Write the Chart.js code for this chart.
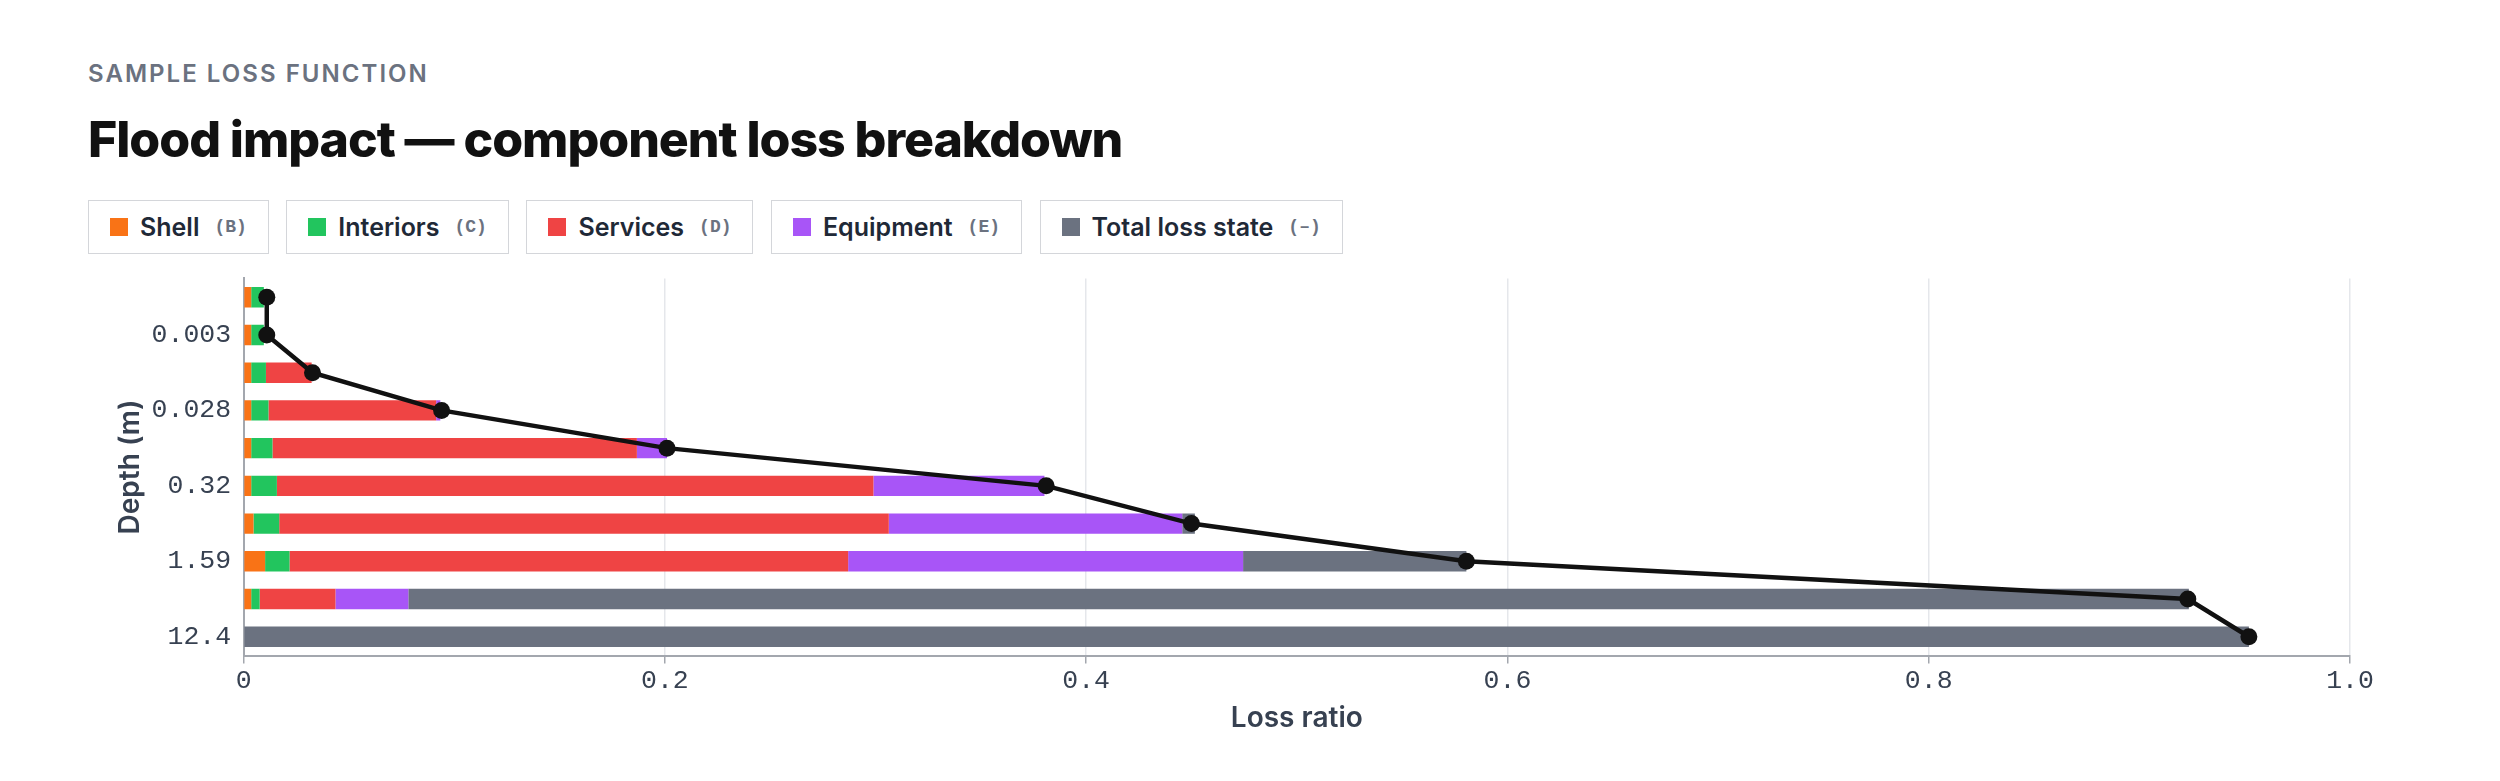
<!DOCTYPE html>
<html>
<head>
<meta charset="utf-8">
<script src="https://cdn.jsdelivr.net/npm/chart.js@4.4.1/dist/chart.umd.min.js"></script>
<style>
  html, body { margin: 0; padding: 0; background: #fff; }
  body { width: 2500px; height: 781px; position: relative; overflow: hidden; font-family: Inter, "Noto Sans", sans-serif; }
  .eyebrow { position: absolute; left: 88px; top: 59px; font-size: 24px; line-height: 29px; font-weight: 600; letter-spacing: 0.085em; color: #6b7280; text-transform: uppercase; }
  h1 { position: absolute; left: 88px; top: 109px; margin: 0; font-size: 50px; line-height: 60px; font-weight: 800; letter-spacing: -0.021em; color: #111; }
  .legend { position: absolute; left: 88px; top: 200px; display: flex; gap: 17.5px; }
  .item { height: 52px; box-sizing: content-box; display: flex; align-items: center; padding: 0 21px; border: 1.5px solid #d4d6da; font-size: 25px; font-weight: 600; color: #1f2937; }
  .sw { width: 18px; height: 18px; margin-right: 12px; }
  .code { margin-left: 15px; font-family: "Liberation Mono", monospace; font-size: 18px; font-weight: bold; color: #6b7280; }
  .wrap { position: absolute; left: 88px; top: 257.5px; width: 2324px; height: 485px; }
</style>
</head>
<body>
<div class="eyebrow">Sample loss function</div>
<h1>Flood impact — component loss breakdown</h1>
<div class="legend" id="legend"></div>
<div class="wrap"><canvas id="chart"></canvas></div>
<script>
// depth categories (m), top to bottom
const depths = ['0.001', '0.003', '0.009', '0.028', '0.095', '0.32', '0.71', '1.59', '4.44', '12.4'];

// component loss ratios per depth
const shell     = [0.0036, 0.0036, 0.0036, 0.0036, 0.0036, 0.0036, 0.0047, 0.0102, 0.0036, 0];
const interiors = [0.006, 0.006, 0.007, 0.0082, 0.0101, 0.0122, 0.0122, 0.0116, 0.004, 0];
const services  = [0, 0, 0.0217, 0.0796, 0.173, 0.2832, 0.2894, 0.2652, 0.036, 0];
const equipment = [0, 0, 0, 0.002, 0.0143, 0.0812, 0.1393, 0.1875, 0.0346, 0];
const lossState = [0, 0, 0, 0, 0, 0, 0.006, 0.106, 0.8453, 0.952];

// total loss curve
const totalLoss = [0.011, 0.011, 0.0327, 0.094, 0.201, 0.381, 0.450, 0.5805, 0.923, 0.952];

const xTicks = [0, 0.2, 0.4, 0.6, 0.8, 1.0];

const components = [
  { label: 'Shell', code: '(B)', color: '#f97316', data: shell },
  { label: 'Interiors', code: '(C)', color: '#22c55e', data: interiors },
  { label: 'Services', code: '(D)', color: '#ef4444', data: services },
  { label: 'Equipment', code: '(E)', color: '#a855f7', data: equipment },
  { label: 'Total loss state', code: '(–)', color: '#6b7280', data: lossState },
];

// html legend
const legend = document.getElementById('legend');
components.forEach(c => {
  const el = document.createElement('div');
  el.className = 'item';
  el.innerHTML = `<span class="sw" style="background:${c.color}"></span><span>${c.label}</span><span class="code">${c.code}</span>`;
  legend.appendChild(el);
});

const barSets = components.map(c => ({
  type: 'bar',
  label: c.label,
  data: c.data,
  backgroundColor: c.color,
  borderWidth: 0,
  barPercentage: 0.6,
  categoryPercentage: 0.9,
  order: 1,
}));

const monoFont = { family: 'Liberation Mono', size: 26.5 };
const titleFont = { family: 'Inter', size: 28, weight: '600' };

const ctx = document.getElementById('chart').getContext('2d');
new Chart(ctx, {
  data: {
    labels: depths,
    datasets: [
      ...barSets,
      {
        type: 'line',
        label: 'Total',
        data: totalLoss,
        stack: 'total',
        borderColor: '#111',
        backgroundColor: '#111',
        borderWidth: 4.5,
        pointRadius: 8.5,
        pointBorderWidth: 0,
        tension: 0,
        order: 0,
      },
    ],
  },
  options: {
    indexAxis: 'y',
    responsive: true,
    maintainAspectRatio: false,
    animation: false,
    layout: { padding: { left: 10.5, right: 62, top: 0, bottom: 4 } },
    plugins: {
      legend: { display: false },
      tooltip: { enabled: false },
    },
    scales: {
      x: {
        type: 'linear',
        stacked: true,
        min: 0,
        max: 1,
        afterBuildTicks: axis => { axis.ticks = xTicks.map(v => ({ value: v })); },
        grid: { color: '#e5e7eb', lineWidth: 1.5, tickColor: '#a3a7ae', tickLength: 8 },
        border: { color: '#a3a7ae', width: 2 },
        ticks: { color: '#374151', padding: 1, font: monoFont },
        title: { display: true, text: 'Loss ratio', color: '#374151', padding: { top: 4, bottom: 4 }, font: titleFont },
      },
      y: {
        stacked: true,
        grid: { display: false, tickLength: 8 },
        border: { color: '#a3a7ae', width: 2 },
        ticks: {
          color: '#374151',
          padding: 4.5,
          autoSkip: false,
          font: monoFont,
          callback: function (v, i) { return i % 2 === 1 ? this.getLabelForValue(v) : ''; },
        },
        title: { display: true, text: 'Depth (m)', color: '#374151', padding: { top: 15, bottom: 0 }, font: titleFont },
      },
    },
  },
});
</script>
</body>
</html>
